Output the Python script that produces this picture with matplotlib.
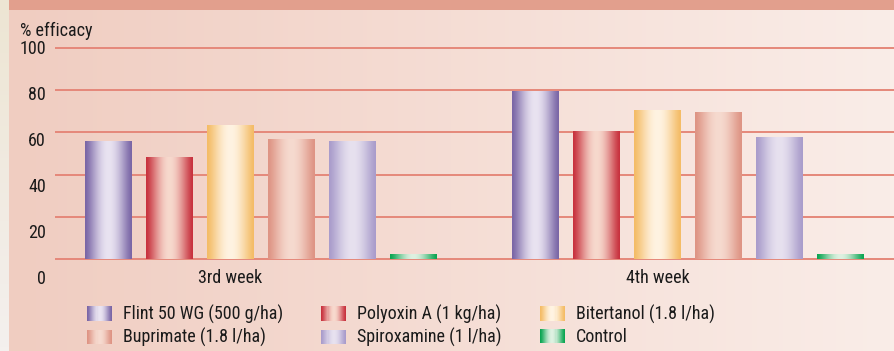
import numpy as np
import matplotlib.pyplot as plt
from matplotlib.patches import Rectangle, Patch
from matplotlib.legend_handler import HandlerBase
from matplotlib.colors import to_rgb
import matplotlib.transforms as mtransforms

plt.rcParams['font.family'] = ['Roboto Condensed', 'Sofia Sans Semi Condensed', 'Liberation Sans', 'DejaVu Sans']

# data
weeks = ["3rd week", "4th week"]
treatments = ["Flint 50 WG (500 g/ha)", "Polyoxin A (1 kg/ha)", "Bitertanol (1.8 l/ha)",
              "Buprimate (1.8 l/ha)", "Spiroxamine (1 l/ha)", "Control"]
week3 = [56, 48.5, 63.5, 57, 56, 2.5]
week4 = [79.5, 60.5, 70.5, 69.5, 58, 2.5]
y_ticks = [0, 20, 40, 60, 80, 100]

# (edge colour, centre colour) for the cylinder look
shades = [("#7A66A6", "#E9E3F1"), ("#C8323E", "#F7D9CD"), ("#F4BC66", "#FFF3E2"),
          ("#DE9484", "#F6DACF"), ("#A99CCB", "#E7E1EF"), ("#0BA552", "#DEF1E1")]


def gradient_row(edge, centre, n=64):
    t = np.linspace(0, 1, n)
    w = np.sin(np.pi * t) ** 1.3
    e, c = np.array(to_rgb(edge)), np.array(to_rgb(centre))
    return e[None, :] * (1 - w[:, None]) + c[None, :] * w[:, None]


class GradientHandler(HandlerBase):
    def __init__(self, edge, centre):
        super().__init__()
        self.cols = gradient_row(edge, centre, 24)

    def create_artists(self, legend, orig_handle, xdescent, ydescent, width, height, fontsize, trans):
        n = len(self.cols)
        strips = []
        for i, c in enumerate(self.cols):
            r = Rectangle((-xdescent + width * i / n, -ydescent), width / n * 1.05, height,
                          facecolor=c, edgecolor='none', transform=trans)
            strips.append(r)
        return strips


W, H = 894, 351
fig = plt.figure(figsize=(W / 100, H / 100), dpi=100)

# background
bg = fig.add_axes([0, 0, 1, 1], zorder=-5)
bg.set_xlim(0, W)
bg.set_ylim(H, 0)
bg.axis('off')
panel = np.linspace(0, 1, 200)[None, :, None]
left_c, right_c = np.array(to_rgb("#F0CDC1")), np.array(to_rgb("#FAEDE8"))
bg.imshow(left_c * (1 - panel) + right_c * panel, extent=(9, W, H, 10), aspect='auto')
strip = np.linspace(0, 1, 100)[:, None, None]
top_c, bot_c = np.array(to_rgb("#EDE5D3")), np.array(to_rgb("#F4F0EE"))
bg.imshow(top_c * (1 - strip) + bot_c * strip, extent=(0, 9, H, 0), aspect='auto')
bg.add_patch(Rectangle((9, 0), W - 9, 10, facecolor="#E29F8D", edgecolor='none'))

# main axes: gridline 0 at y=259px, 100 at y=48px
px_per_unit = (259 - 48) / 100
ybot, ytop = -3, 103
ax = fig.add_axes([55 / W, (H - (259 - ybot * px_per_unit)) / H, 1 - 55 / W,
                   (ytop - ybot) * px_per_unit / H])
ax.patch.set_alpha(0)
for s in ax.spines.values():
    s.set_visible(False)

n = len(treatments)
group_gap = 7
x3 = np.arange(n)
x4 = np.arange(n) + group_gap
width = 0.77

for xs, vals in [(x3, week3), (x4, week4)]:
    bars = ax.bar(xs, vals, width=width, facecolor='none', edgecolor='none', zorder=3)
    for b, (edge, centre) in zip(bars, shades):
        x0, y0 = b.get_x(), b.get_y()
        img = gradient_row(edge, centre)[None, :, :]
        im = ax.imshow(img, extent=(x0, x0 + b.get_width(), y0, y0 + b.get_height()),
                       aspect='auto', zorder=3, interpolation='bilinear')
        im.set_clip_path(b)

ax.set_xlim(-0.877, 12.877)
ax.set_ylim(ybot, ytop)
ax.set_yticks(y_ticks)
ax.tick_params(axis='y', length=0, labelleft=False)
ax.grid(axis='y', color="#E5887A", linewidth=1.4, zorder=1)
ax.set_axisbelow(True)

fs = 13
ax.set_xticks([x3[2], x4[2]], weeks)
ax.tick_params(axis='x', length=0, pad=3, labelsize=fs, labelcolor="#1A1A1A")

# y labels sit slightly lower than the gridlines in the original
trans = mtransforms.blended_transform_factory(fig.transFigure, ax.transData)
for k in y_ticks:
    ypos = (259 - (279 - 2.3 * k)) / px_per_unit
    ax.text(46 / W, ypos, str(k), transform=trans, ha='right', va='center',
            fontsize=fs, color="#1A1A1A", clip_on=False)

fig.text(20 / W, 1 - 31 / H, "% efficacy", ha='left', va='center', fontsize=fs, color="#1A1A1A")

# legend (column-major fill to get row-wise order)
order = [0, 3, 1, 4, 2, 5]
handles = [Patch(label=treatments[i]) for i in order]
hmap = {h: GradientHandler(*shades[i]) for h, i in zip(handles, order)}
fig.legend(handles=handles, labels=[treatments[i] for i in order], handler_map=hmap,
           ncol=3, loc='upper left', bbox_to_anchor=(87 / W, 1 - 305 / H),
           frameon=False, fontsize=fs, handlelength=1.4, handleheight=0.85,
           handletextpad=0.6, columnspacing=2.1, labelspacing=0.22,
           borderpad=0, borderaxespad=0, labelcolor="#1A1A1A")

fig.savefig("out.png", dpi=100)
